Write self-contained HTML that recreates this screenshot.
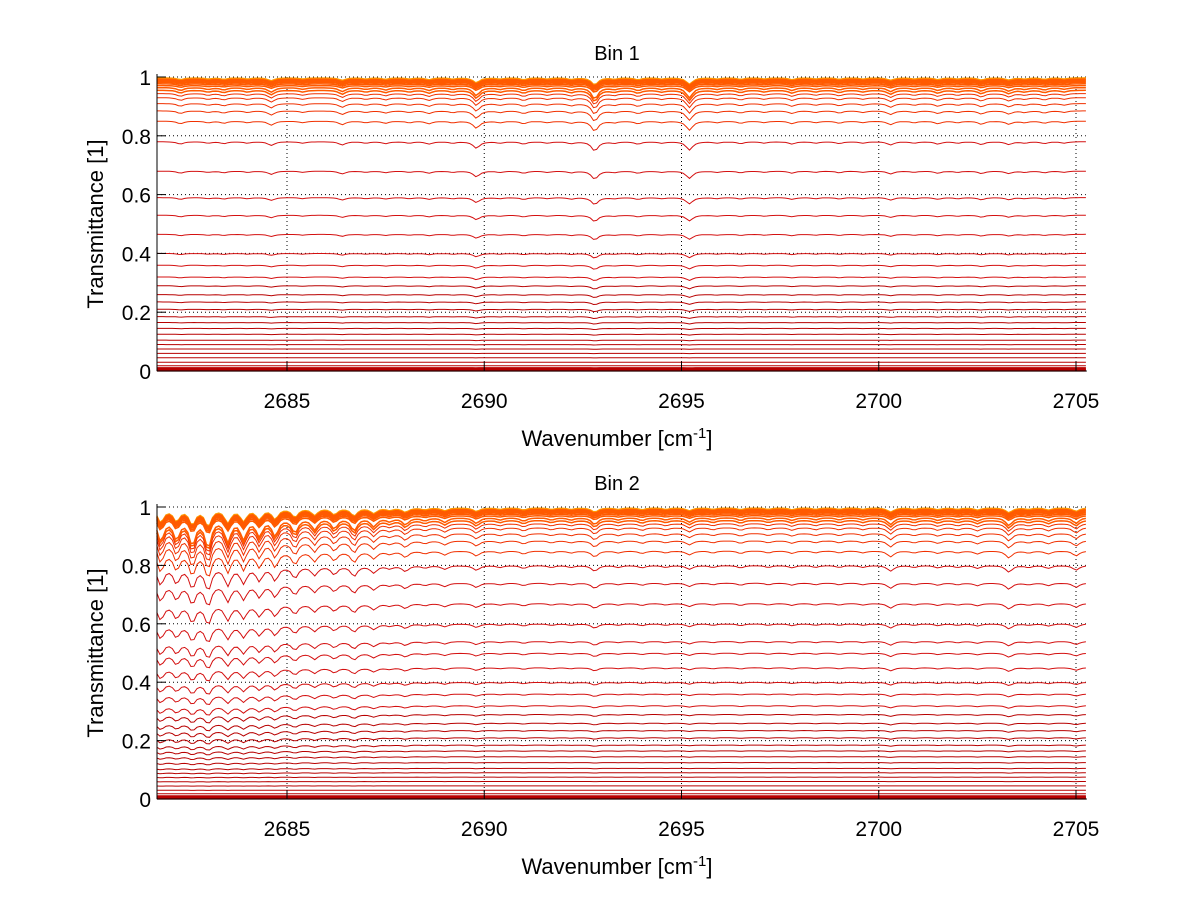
<!DOCTYPE html>
<html><head><meta charset="utf-8"><style>
body{margin:0;background:#fff;}
svg{display:block;font-family:"Liberation Sans",sans-serif;}
</style></head><body>
<svg id="fig" width="1200" height="901"></svg>
<script>
// ---- data ----
const xTicks=[2685,2690,2695,2700,2705];
const yTicks=[0,0.2,0.4,0.6,0.8,1];
const levels1=[0.997,0.993,0.99,0.986,0.982,0.977,0.971,0.964,0.955,0.944,0.93,0.91,0.885,0.85,0.78,0.68,0.59,0.53,0.465,0.4,0.36,0.32,0.29,0.26,0.235,0.21,0.185,0.165,0.145,0.125,0.105,0.09,0.075,0.06,0.045,0.03,0.018,0.008,0.003];
const levels2=[0.997,0.993,0.99,0.986,0.982,0.977,0.971,0.964,0.955,0.944,0.93,0.91,0.885,0.85,0.8,0.74,0.67,0.6,0.54,0.5,0.45,0.4,0.36,0.32,0.29,0.26,0.235,0.21,0.185,0.165,0.145,0.125,0.105,0.09,0.075,0.06,0.045,0.03,0.018,0.008,0.003];
const dipPos1=[2682.3,2683.0,2683.4,2684.0,2684.6,2685.4,2686.4,2687.0,2687.5,2688.1,2688.6,2689.2,2689.8,2690.4,2691.0,2691.6,2692.2,2692.8,2693.3,2693.9,2694.5,2695.2,2695.9,2696.5,2697.1,2697.8,2698.4,2699.0,2699.6,2700.3,2700.9,2701.5,2702.0,2702.6,2703.3,2703.7,2704.2,2704.7];
const dipStr1=[0.05,0.03,0.04,0.03,0.08,0.03,0.07,0.03,0.04,0.03,0.05,0.03,0.14,0.03,0.05,0.03,0.04,0.2,0.03,0.05,0.03,0.18,0.03,0.04,0.03,0.05,0.03,0.04,0.03,0.07,0.03,0.05,0.03,0.06,0.06,0.03,0.04,0.03];
const dipPos2=[2681.8,2682.2,2682.6,2683.0,2683.5,2683.9,2684.3,2684.7,2685.2,2685.7,2686.2,2686.7,2687.2,2687.6,2688.0,2688.5,2689.0,2689.8,2690.4,2691.0,2691.7,2692.2,2692.8,2693.4,2694.0,2694.6,2695.2,2695.8,2696.5,2697.2,2697.8,2698.4,2699.0,2699.6,2700.3,2700.9,2701.5,2702.0,2702.5,2703.3,2703.8,2704.3,2705.0];
const dipStr2=[0.4,0.35,0.45,0.5,0.4,0.35,0.3,0.3,0.25,0.2,0.18,0.22,0.15,0.06,0.12,0.05,0.08,0.1,0.04,0.06,0.04,0.04,0.12,0.04,0.05,0.04,0.08,0.04,0.05,0.04,0.05,0.04,0.04,0.04,0.12,0.04,0.05,0.04,0.06,0.14,0.04,0.06,0.1];
// ---- drawing ----
const NS="http://www.w3.org/2000/svg";
const svg=document.getElementById('fig');
const xmin=2681.7,xmax=2705.25;
function mk(t,a,p){const e=document.createElementNS(NS,t);for(const k in a)e.setAttribute(k,a[k]);(p||svg).appendChild(e);return e;}
function color(L){
  if(L>0.995)return '#ff9a00';
  if(L>0.95)return '#ff5a00';
  if(L>0.8)return '#f03000';
  if(L>0.3)return '#d41010';
  return '#b80000';
}
function panel(id,top,bot,title,levels,dp,ds,w){
  const L=157,R=1076;
  const X=v=>287+(v-2685)*(R-287)/20;
  const Y=v=>bot-(v)*(bot-top);
  const g=mk('g',{});
  
  
  xTicks.forEach(t=>{const e=mk('line',{x1:X(t),x2:X(t),y1:top,y2:bot,stroke:'#000','stroke-width':1,'stroke-dasharray':'1,3'},g);});
  yTicks.forEach(t=>{const e=mk('line',{x1:L,x2:X(xmax),y1:Y(t),y2:Y(t),stroke:'#000','stroke-width':1,'stroke-dasharray':'1,3'},g);});
  const N=300;
  const prof=[];
  for(let i=0;i<=N;i++){const x=xmin+(xmax-xmin)*i/N;let p=0;for(let j=0;j<dp.length;j++){const d=(x-dp[j])/w;p+=ds[j]/(1+d*d);}prof.push([x,p]);}
  levels.forEach((lv,k)=>{
    let d='';
    const amp=0.2*Math.min(1,lv*5)*(lv>0.97?0.6:1);
    prof.forEach(([x,p],i)=>{const T=lv*(1-amp*p);d+=(i?'L':'M')+X(x).toFixed(1)+','+Y(T).toFixed(1);});
    const e=mk('path',{d:d,fill:'none',stroke:color(lv),'stroke-width':lv<0.012?3:(lv>0.95?1.5:1)},g);
    
    
  });
  const ax=mk('line',{x1:L,x2:L,y1:top-3,y2:bot,stroke:'#000'},g);
  const bx=mk('line',{x1:L,x2:X(xmax)+1,y1:bot,y2:bot,stroke:'#000'},g);
  xTicks.forEach(t=>{
    mk('line',{x1:X(t),x2:X(t),y1:bot,y2:bot-9,stroke:'#000'},g);
    const e=mk('text',{x:X(t),y:bot+37,'text-anchor':'middle','font-size':21},g);e.textContent=t;
    
  });
  yTicks.forEach(t=>{
    mk('line',{x1:L,x2:L+9,y1:Y(t),y2:Y(t),stroke:'#000'},g);
    const e=mk('text',{x:L-6,y:Y(t)+8,'text-anchor':'end','font-size':21},g);e.textContent=String(t);
    
  });
  const tt=mk('text',{x:617,y:top-17,'text-anchor':'middle','font-size':20},g);tt.textContent=title;
  
  const xl=mk('text',{x:617,y:bot+75,'text-anchor':'middle','font-size':22},g);
  xl.innerHTML='Wavenumber [cm<tspan dy="-8" font-size="15">-1</tspan><tspan dy="8">]</tspan>';
  
  const yl=mk('text',{x:0,y:0,'text-anchor':'middle','font-size':22,transform:`translate(103,${(top+bot)/2}) rotate(-90)`},g);
  yl.textContent='Transmittance [1]';
  
}
panel('bin1-panel',77,371,'Bin 1',levels1,dipPos1,dipStr1,0.1);
panel('bin2-panel',507,799,'Bin 2',levels2,dipPos2,dipStr2,0.1);
</script>
</body></html>
